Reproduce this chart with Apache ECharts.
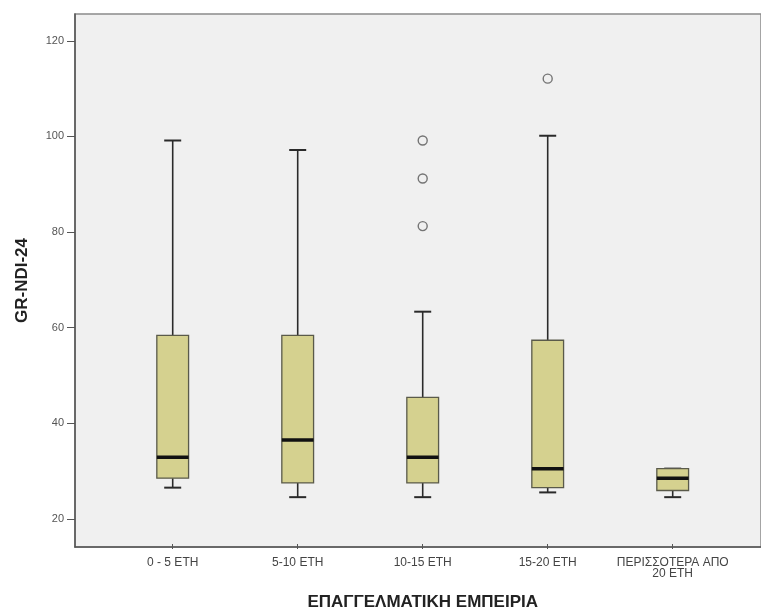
<!DOCTYPE html>
<html>
<head>
<meta charset="utf-8">
<script src="https://cdn.jsdelivr.net/npm/echarts@6/dist/echarts.min.js"></script>
<style>html,body{margin:0;padding:0;background:#fff;}#c{width:761px;height:616px;}</style>
</head>
<body>
<div id="c"></div>
<script>
const categories = ['0 - 5 ΕΤΗ', '5-10 ΕΤΗ', '10-15 ΕΤΗ', '15-20 ΕΤΗ', 'ΠΕΡΙΣΣΟΤΕΡΑ ΑΠΟ\n20 ΕΤΗ'];
const whiskerLow = [26, 24, 24, 25, 24];
const q1 = [28, 27, 27, 26, 25.4];
const median = [32.4, 36, 32.4, 30, 28];
const q3 = [58, 58, 45, 57, 30];
const whiskerHigh = [99, 97, 63, 100, 30];
const outliers = [[2, 81], [2, 91], [2, 99], [3, 112]];
const yTicks = [20, 40, 60, 80, 100, 120];

const boxData = categories.map((c, i) => [i, whiskerLow[i], q1[i], median[i], q3[i], whiskerHigh[i]]);

const FONT = '"Liberation Sans", Arial, sans-serif';
const chart = echarts.init(document.getElementById('c'));
const yMin = 14.15, yMax = 125.6;

chart.setOption({
  animation: false,
  backgroundColor: '#ffffff',
  grid: [
    { left: 75, right: -3, top: 14, bottom: 69, show: true, backgroundColor: '#f0f0f0', borderColor: '#8a8a8a', borderWidth: 1.5 },
    { left: 110.2, right: 25.8, top: 14, bottom: 69 }
  ],
  xAxis: [
    { gridIndex: 0, type: 'value', min: 0, max: 1, axisLine: { show: true, lineStyle: { color: '#555', width: 1.5 } }, axisTick: { show: false }, axisLabel: { show: false }, splitLine: { show: false } },
    { gridIndex: 1, type: 'category', data: categories, boundaryGap: true,
      axisLine: { show: false },
      axisTick: { show: true, alignWithLabel: true, length: 5, lineStyle: { color: '#555', width: 1 } },
      axisLabel: { fontFamily: FONT, fontSize: 12, color: '#444', margin: 13, lineHeight: 11, interval: 0 },
      name: 'ΕΠΑΓΓΕΛΜΑΤΙΚΗ ΕΜΠΕΙΡΙΑ', nameLocation: 'middle', nameGap: 50,
      nameTextStyle: { fontFamily: FONT, fontSize: 17, fontWeight: 'bold', color: '#222' }
    }
  ],
  yAxis: [
    { gridIndex: 0, type: 'value', min: yMin, max: yMax,
      axisLine: { show: true, lineStyle: { color: '#555', width: 1.5 } },
      axisTick: { show: true, length: 8, customValues: yTicks, lineStyle: { color: '#555', width: 1 } },
      axisLabel: { customValues: yTicks, fontFamily: FONT, fontSize: 11, color: '#555', margin: 11 },
      splitLine: { show: false },
      name: 'GR-NDI-24', nameLocation: 'middle', nameGap: 44, nameRotate: 90,
      nameTextStyle: { fontFamily: FONT, fontSize: 17, fontWeight: 'bold', color: '#222' }
    },
    { gridIndex: 1, type: 'value', min: yMin, max: yMax, show: false, splitLine: { show: false } }
  ],
  series: [
    {
      type: 'custom', xAxisIndex: 1, yAxisIndex: 1,
      data: boxData,
      encode: { x: 0, y: [1, 2, 3, 4, 5] },
      renderItem: function (params, api) {
        const i = api.value(0);
        const band = api.size([1, 0])[0];
        const bw = band * 0.254;
        const cw = band * 0.136;
        const pLow = api.coord([i, api.value(1)]);
        const pQ1 = api.coord([i, api.value(2)]);
        const pMed = api.coord([i, api.value(3)]);
        const pQ3 = api.coord([i, api.value(4)]);
        const pHigh = api.coord([i, api.value(5)]);
        const x = pMed[0];
        const wStyle = { stroke: '#2a2a2a', lineWidth: 1.6 };
        const children = [
          { type: 'line', shape: { x1: x, y1: pLow[1], x2: x, y2: pQ1[1] }, style: wStyle },
          { type: 'line', shape: { x1: x, y1: pQ3[1], x2: x, y2: pHigh[1] }, style: wStyle },
          { type: 'line', shape: { x1: x - cw / 2, y1: pLow[1], x2: x + cw / 2, y2: pLow[1] }, style: { stroke: '#2a2a2a', lineWidth: 2 } },
          { type: 'line', shape: { x1: x - cw / 2, y1: pHigh[1], x2: x + cw / 2, y2: pHigh[1] }, style: { stroke: '#2a2a2a', lineWidth: 2 } },
          { type: 'rect', shape: { x: x - bw / 2, y: pQ3[1], width: bw, height: pQ1[1] - pQ3[1] }, style: { fill: '#d5d18f', stroke: '#5a5a4a', lineWidth: 1.3 } },
          { type: 'line', shape: { x1: x - bw / 2, y1: pMed[1], x2: x + bw / 2, y2: pMed[1] }, style: { stroke: '#111', lineWidth: 3.5 } }
        ];
        return { type: 'group', children: children };
      },
      z: 3
    },
    {
      type: 'scatter', xAxisIndex: 1, yAxisIndex: 1,
      data: outliers,
      symbol: 'circle', symbolSize: 9,
      itemStyle: { color: 'rgba(0,0,0,0)', borderColor: '#555', borderWidth: 1.4 },
      z: 4
    }
  ]
});
</script>
</body>
</html>
